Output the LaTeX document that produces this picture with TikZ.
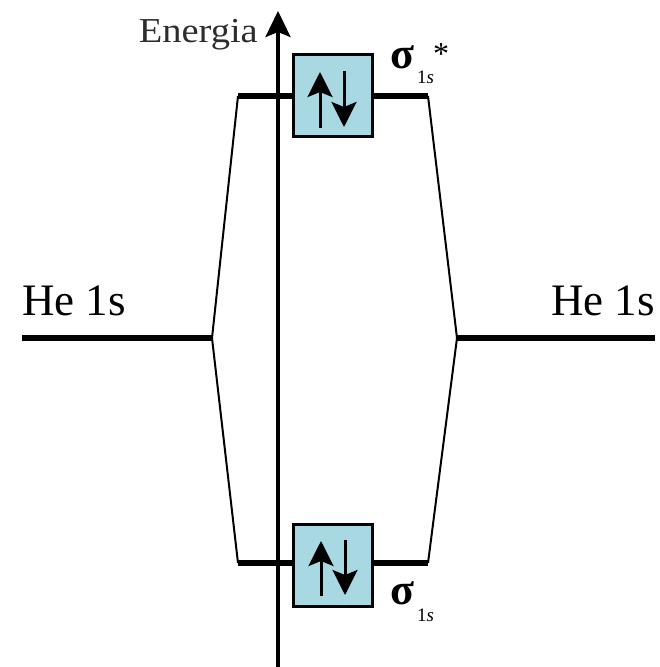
\documentclass[tikz,border=0pt]{standalone}
\usepackage{fontspec}
\setmainfont{Liberation Serif}
\usetikzlibrary{arrows.meta}
\definecolor{boxblue}{RGB}{168,216,226}
\definecolor{txtgray}{RGB}{45,45,45}
\begin{document}
\begin{tikzpicture}[x=1pt,y=-1pt,
  level/.style={line width=6.5pt},
  link/.style={line width=2pt},
  orbbox/.style={draw=black,line width=3pt,fill=boxblue,minimum width=79pt,minimum height=82pt,inner sep=0pt},
  spin/.style={line width=3pt,-{Stealth[length=25pt,width=25pt,inset=5pt]}},
  lbl/.style={inner sep=0pt,font=\fontsize{45}{50}\selectfont},
  sig/.style={inner sep=0pt,font=\fontsize{44}{46}\selectfont\bfseries},
  sub/.style={inner sep=0pt,font=\fontsize{19}{21}\selectfont}
]
\useasboundingbox (0,0) rectangle (660,667);
% coordinates
\coordinate (axb) at (278,667);
\coordinate (axt) at (278,11);
\coordinate (Ll) at (22,338);
\coordinate (Lr) at (212,338);
\coordinate (Rl) at (457,338);
\coordinate (Rr) at (655,338);
\coordinate (Tl) at (238,96);
\coordinate (Tr) at (428,96);
\coordinate (Bl) at (238,563);
\coordinate (Br) at (428,563);
% axis
\draw[line width=3.5pt,-{Stealth[length=26pt,width=25pt,inset=5pt]}] (axb) -- (axt);
\node[anchor=base east,inner sep=0pt,text=txtgray,font=\fontsize{35}{38}\selectfont,xscale=1.1] (energia) at (258,42) {Energia};
% connectors
\draw[link] (Lr) -- (Tl);
\draw[link] (Lr) -- (Bl);
\draw[link] (Rl) -- (Tr);
\draw[link] (Rl) -- (Br);
% levels
\draw[level] (Ll) -- (Lr);
\draw[level] (Rl) -- (Rr);
\draw[level] (Tl) -- (Tr);
\draw[level] (Bl) -- (Br);
% boxes
\node[orbbox] (topbox) at (333,95) {};
\node[orbbox] (botbox) at (333,565) {};
\coordinate (tu1) at (320,128);
\coordinate (tu2) at (320,72);
\coordinate (td1) at (344,71);
\coordinate (td2) at (344,127);
\coordinate (bu1) at (321,596);
\coordinate (bu2) at (321,541);
\coordinate (bd1) at (345,540);
\coordinate (bd2) at (345,595);
\draw[spin] (tu1) -- (tu2);
\draw[spin] (td1) -- (td2);
\draw[spin] (bu1) -- (bu2);
\draw[spin] (bd1) -- (bd2);
% labels
\node[lbl,anchor=base west] (heL) at (22,315) {He 1s};
\node[lbl,anchor=base east] (heR) at (655,315) {He 1s};
\node[sig,anchor=base west] (sigT) at (390,68) {σ};
\node[sub,anchor=base west] (subT) at (417,83) {1\textit{s}};
\node[inner sep=0pt,font=\fontsize{32}{34}\selectfont] (star) at (441,54) {*};
\node[sig,anchor=base west] (sigB) at (390,604) {σ};
\node[sub,anchor=base west] (subB) at (417,621) {1\textit{s}};
\end{tikzpicture}
\end{document}
